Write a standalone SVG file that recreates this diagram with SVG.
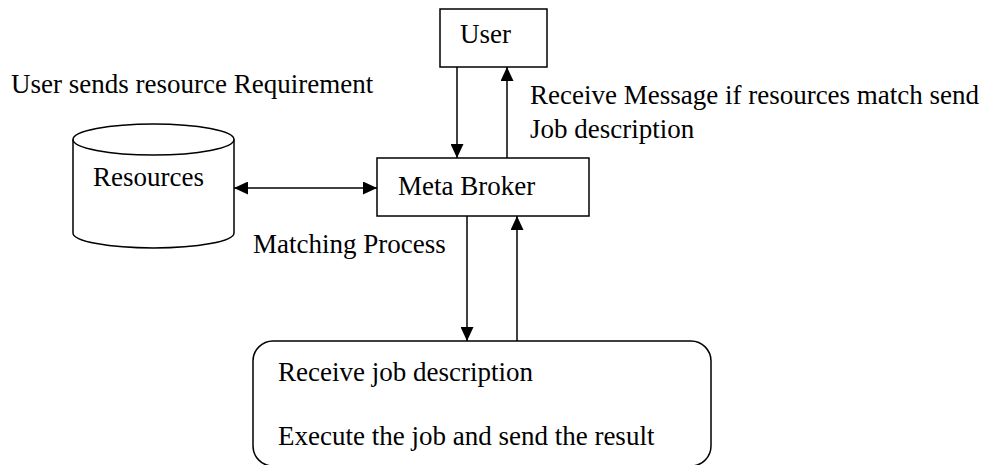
<svg xmlns="http://www.w3.org/2000/svg" width="992" height="465" viewBox="0 0 992 465">
<style>
.s{fill:#fff;stroke:#000;stroke-width:1.5}
text{font-family:"Liberation Serif","Times New Roman",serif;font-size:27px;fill:#000}
.c{stroke:#000;stroke-width:1.5;fill:none}
</style>
<defs>
<marker id="a" viewBox="0 0 14 13" refX="14" refY="6.5" markerWidth="14" markerHeight="13" markerUnits="userSpaceOnUse" orient="auto-start-reverse">
<path d="M0,0 L14,6.5 L0,13 z" fill="#000"/>
</marker>
</defs>
<rect width="992" height="465" fill="#fff"/>
<text x="11" y="93">User sends resource Requirement</text>
<text x="530" y="104">Receive Message if resources match send</text>
<text x="530" y="138">Job description</text>
<text x="253" y="253">Matching Process</text>
<g id="user">
<rect class="s" x="440" y="9" width="107" height="58"/>
<text x="460" y="43">User</text>
</g>
<g id="resources">
<path class="s" d="M73,139.5 L73,233 A80.5,15 0 0 0 234,233 L234,139.5 A80.5,15.5 0 0 0 73,139.5 Z"/>
<path class="c" d="M73,139.5 A80.5,15.5 0 0 0 234,139.5"/>
<text x="93" y="186">Resources</text>
</g>
<g id="metabroker">
<rect class="s" x="377" y="158" width="212" height="58"/>
<text x="398" y="195">Meta Broker</text>
</g>
<g id="worker">
<rect class="s" x="253" y="341" width="458" height="125" rx="20" ry="20"/>
<text x="278" y="381">Receive job description</text>
<text x="278" y="445">Execute the job and send the result</text>
</g>
<g id="connectors">
<line class="c" x1="457" y1="67" x2="457" y2="158" marker-end="url(#a)"/>
<line class="c" x1="507" y1="158" x2="507" y2="67" marker-end="url(#a)"/>
<line class="c" x1="234" y1="188" x2="377" y2="188" marker-start="url(#a)" marker-end="url(#a)"/>
<line class="c" x1="467" y1="216" x2="467" y2="341" marker-end="url(#a)"/>
<line class="c" x1="517" y1="341" x2="517" y2="216" marker-end="url(#a)"/>
</g>
</svg>
